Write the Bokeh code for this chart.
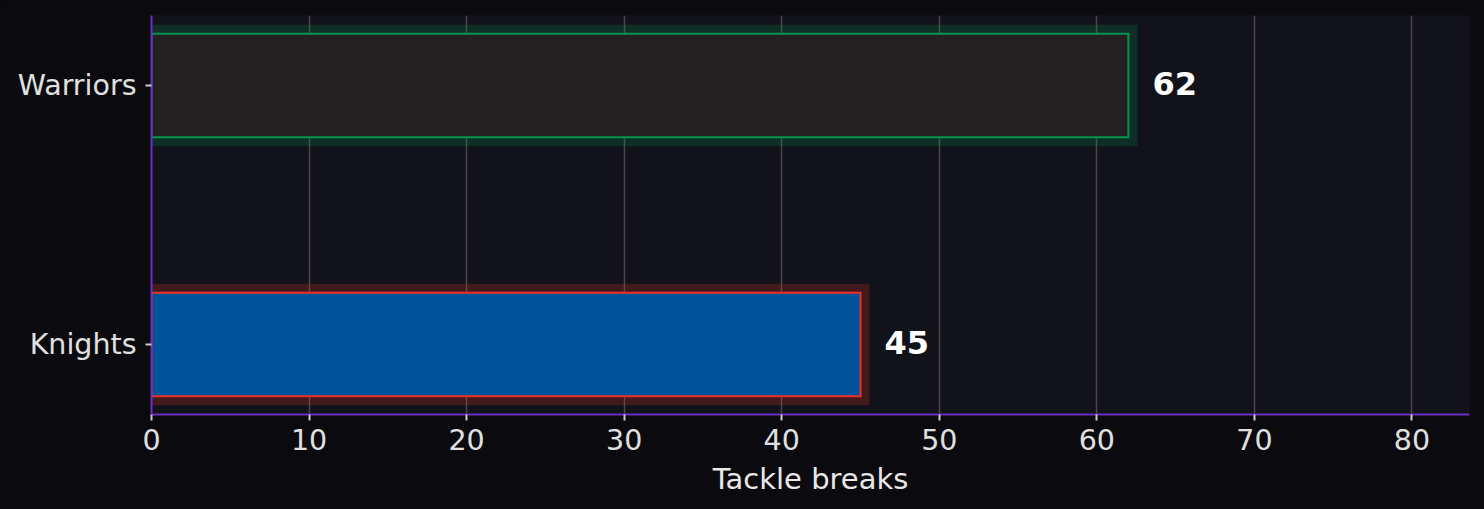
from bokeh.plotting import figure
from bokeh.models import ColumnDataSource, FixedTicker, Range1d
from bokeh.embed import file_html
from bokeh.resources import INLINE
from bokeh.core.properties import value

teams = ["Knights", "Warriors"]
tackle_breaks = [45, 62]
fill_colors = ["#00539b", "#252122"]
edge_colors = ["#ee3124", "#009650"]
positions = [0, 1]
x_ticks = [0, 10, 20, 30, 40, 50, 60, 70, 80]

src = ColumnDataSource(dict(
    y=positions, v=tackle_breaks, fill=fill_colors, edge=edge_colors,
    lbl=[str(v) for v in tackle_breaks],
))

p = figure(width=1484, height=509, output_backend="svg", toolbar_location=None,
           x_range=Range1d(0, 83.65), y_range=Range1d(-0.27, 1.27),
           min_border_left=151, min_border_right=15, min_border_top=15, min_border_bottom=95)

p.background_fill_color = "#12121a"
p.border_fill_color = "#0b0b0f"
p.outline_line_color = None

# glow
p.hbar(y="y", left=0, right="v", height=0.4, source=src, fill_color=None,
       line_color="edge", line_width=18, line_alpha=0.22, line_join="miter")
p.hbar(y="y", left=0, right="v", height=0.4, source=src, fill_color="fill",
       line_color="edge", line_width=2, line_join="miter")
p.text(x="v", y="y", text="lbl", source=src, x_offset=24, y_offset=-2, text_align="left",
       text_baseline="middle", text_color="#ffffff", text_font_style="bold",
       text_font_size="32px", text_font=value("DejaVu Sans"))

p.xaxis.ticker = FixedTicker(ticks=x_ticks)
p.yaxis.ticker = FixedTicker(ticks=positions)
p.yaxis.major_label_overrides = {positions[i]: teams[i] for i in range(len(teams))}

for ax in (p.xaxis, p.yaxis):
    ax.axis_line_color = "#6a2fc2"
    ax.axis_line_width = 2
    ax.major_tick_line_color = "#cccccc"
    ax.major_tick_line_width = 2
    ax.major_tick_out = 6
    ax.major_tick_in = 0
    ax.minor_tick_line_color = None
    ax.major_label_text_color = "#e0e0e0"
    ax.major_label_text_font = "DejaVu Sans"
    ax.major_label_text_font_size = "28.5px"

p.xaxis.major_label_standoff = 8
p.yaxis.major_label_standoff = 9

p.xaxis.axis_label = "Tackle breaks"
p.xaxis.axis_label_text_color = "#e8e8e8"
p.xaxis.axis_label_text_font = "DejaVu Sans"
p.xaxis.axis_label_text_font_size = "29px"
p.xaxis.axis_label_text_font_style = "normal"
p.xaxis.axis_label_standoff = 9

p.xgrid.grid_line_color = "#484848"
p.xgrid.grid_line_width = 1.5
p.ygrid.grid_line_color = None

html = file_html(p, INLINE)
html = html.replace("<head>", "<head><style>body{background:#0b0b0f;}</style>", 1)
open("out.html", "w").write(html)
